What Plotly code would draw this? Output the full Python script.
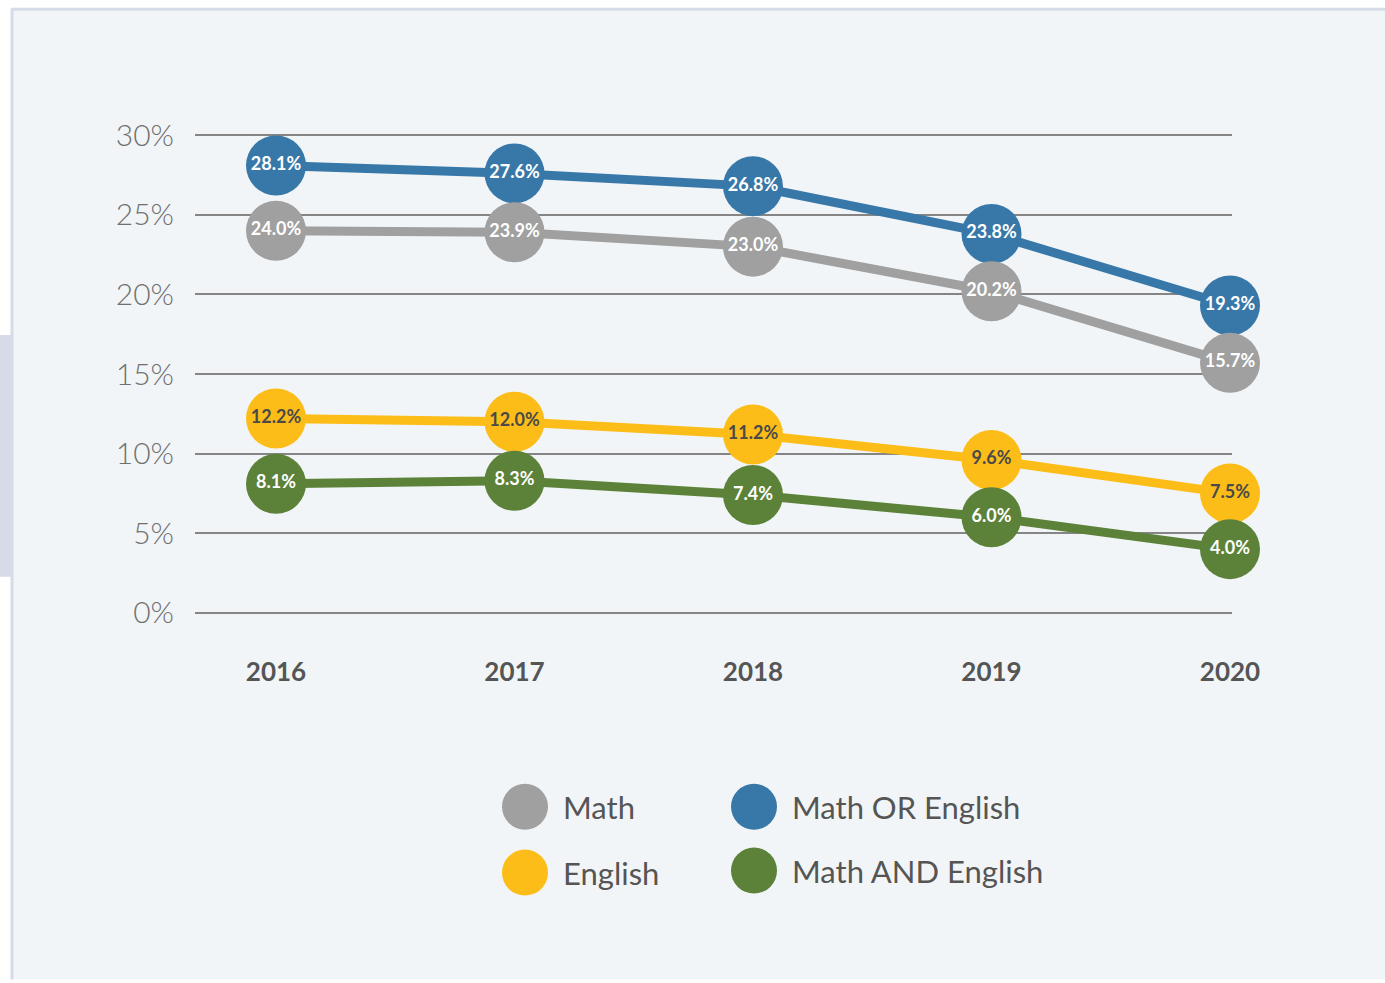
import plotly.graph_objects as go

years = [2016, 2017, 2018, 2019, 2020]
math_or_english = [28.1, 27.6, 26.8, 23.8, 19.3]
math = [24.0, 23.9, 23.0, 20.2, 15.7]
english = [12.2, 12.0, 11.2, 9.6, 7.5]
math_and_english = [8.1, 8.3, 7.4, 6.0, 4.0]
y_ticks = [0, 5, 10, 15, 20, 25, 30]
y_tick_labels = ["0%", "5%", "10%", "15%", "20%", "25%", "30%"]

series = [
    ("Math OR English", math_or_english, "#3878a8", "white"),
    ("Math", math, "#a0a0a0", "white"),
    ("English", english, "#fdbd18", "#4a4a4a"),
    ("Math AND English", math_and_english, "#5b8238", "white"),
]

W, H = 1385, 983
pad = 0.2
unit = 478 / 30.0
L, R = 195, 153
T = 135 - pad * unit
B = H - (613 + pad * unit)
pw = W - L - R
ph = H - T - B


def px(x):
    return (x - L) / pw


def py(y):
    return 1 - (y - T) / ph


FONT = "Lato"
fig = go.Figure()
for name, vals, color, tcolor in series:
    fig.add_trace(go.Scatter(
        x=years, y=vals, name=name, mode="lines+markers+text",
        line=dict(color=color, width=9),
        marker=dict(color=color, size=60),
        text=[f"{v:.1f}%" for v in vals],
        textposition="middle center",
        textfont=dict(family=FONT, size=18, color=tcolor, weight="bold"),
        cliponaxis=False, showlegend=False, hoverinfo="skip",
    ))

shapes = [
    dict(type="rect", xref="paper", yref="paper", x0=px(12), x1=px(W + 5), y0=py(980), y1=py(8),
         fillcolor="#f2f5f7", line=dict(width=0), layer="below"),
    dict(type="line", xref="paper", yref="paper", x0=px(12), x1=px(W + 5), y0=py(9), y1=py(9),
         line=dict(color="#d5dce8", width=3), layer="below"),
    dict(type="line", xref="paper", yref="paper", x0=px(12), x1=px(12), y0=py(980), y1=py(8),
         line=dict(color="#d5dce8", width=3), layer="below"),
    dict(type="rect", xref="paper", yref="paper", x0=px(0), x1=px(11), y0=py(577), y1=py(335),
         fillcolor="#d5dce8", line=dict(width=0), layer="below"),
]

legend_items = [
    ("Math", "#a0a0a0", 525, 807),
    ("Math OR English", "#3878a8", 754, 807),
    ("English", "#fdbd18", 525, 873),
    ("Math AND English", "#5b8238", 754, 871),
]
annotations = []
for name, color, cx, cy in legend_items:
    shapes.append(dict(type="circle", xref="paper", yref="paper", xsizemode="pixel", ysizemode="pixel",
                       xanchor=px(cx), yanchor=py(cy), x0=-23, x1=23, y0=-23, y1=23,
                       fillcolor=color, line=dict(width=0)))
    annotations.append(dict(xref="paper", yref="paper", x=px(cx + 36), y=py(cy), text=name,
                            showarrow=False, xanchor="left", yanchor="middle",
                            font=dict(family=FONT, size=31, color="#555555")))

fig.update_layout(
    width=W, height=H,
    margin=dict(l=L, r=R, t=T, b=B, pad=0),
    paper_bgcolor="white", plot_bgcolor="rgba(0,0,0,0)",
    shapes=shapes, annotations=annotations,
    xaxis=dict(range=[2016 - (276 - L) / 238.5, 2020 + 2 / 238.5], tickvals=years,
               ticktext=[str(y) for y in years], showgrid=False, zeroline=False, showline=False,
               ticklabelstandoff=38,
               tickfont=dict(family=FONT, size=26, color="#555555", weight="bold")),
    yaxis=dict(range=[-pad, 30 + pad], tickvals=y_ticks, ticktext=y_tick_labels, showgrid=True,
               gridcolor="#858585", gridwidth=1.5, zeroline=False, showline=False,
               ticklabelstandoff=20,
               tickfont=dict(family=FONT, size=30, color="#707070", weight=300)),
)

fig.write_html("out.html", config={"displayModeBar": False},
               post_script="document.body.style.margin='0px';")
